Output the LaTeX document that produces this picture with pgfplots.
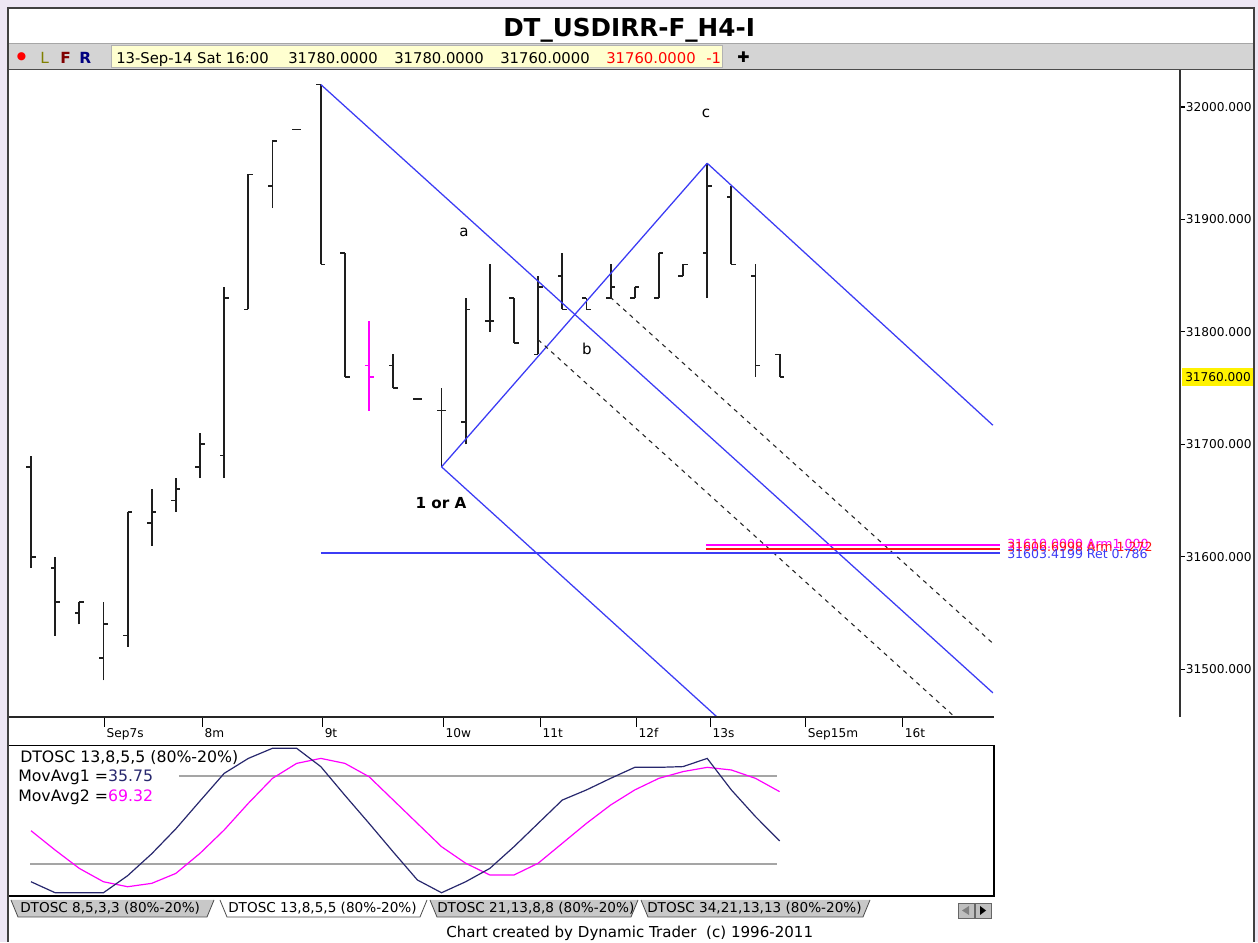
\documentclass[border=0pt]{standalone}
\usepackage{fontspec}
\setmainfont{DejaVu Sans}
\usepackage{pgfplots}
\usepackage{pgfplotstable}
\pgfplotsset{compat=1.18}

\definecolor{lav}{RGB}{237,231,244}
\definecolor{tbgray}{RGB}{212,212,212}
\definecolor{ylw}{RGB}{255,255,208}
\definecolor{lblue}{RGB}{60,60,245}
\definecolor{navyosc}{RGB}{40,40,110}
\definecolor{mag}{RGB}{255,0,255}
\definecolor{tabgray}{RGB}{200,200,200}
\definecolor{oliveL}{RGB}{128,128,0}
\definecolor{maroonF}{RGB}{128,0,0}
\definecolor{navyR}{RGB}{0,0,128}
\definecolor{barcol}{RGB}{30,30,30}
\definecolor{oscgray}{RGB}{165,165,165}
\definecolor{redlab}{RGB}{255,20,20}

\newcommand\fs[1]{\fontsize{#1}{#1}\selectfont}

% price bars: index, open, high, low, close
\pgfplotstableread{
i o h l c
0 31680 31690 31590 31600
1 31590 31600 31530 31560
2 31550 31560 31540 31560
3 31510 31560 31490 31540
4 31530 31640 31520 31640
5 31630 31660 31610 31640
6 31650 31670 31640 31660
7 31680 31710 31670 31700
8 31690 31840 31670 31830
9 31820 31940 31820 31940
10 31930 31970 31910 31970
11 31980 31980 31980 31980
12 32020 32020 31860 31860
13 31870 31870 31760 31760
15 31770 31780 31750 31750
16 31740 31740 31740 31740
17 31730 31750 31680 31730
18 31720 31830 31700 31820
19 31810 31860 31800 31810
20 31830 31830 31790 31790
21 31780 31850 31780 31840
22 31850 31870 31820 31820
23 31830 31830 31820 31820
24 31830 31860 31830 31840
25 31830 31840 31830 31840
26 31830 31870 31830 31870
27 31850 31860 31850 31860
28 31870 31950 31830 31930
29 31920 31930 31860 31860
30 31850 31860 31760 31770
31 31780 31780 31760 31760
}\bars
\pgfplotstableread{
i o h l c
14 31770 31810 31730 31760
}\magbar

% oscillator: MovAvg1 (navy), MovAvg2 (magenta)
\pgfplotstableread{
i v1 v2
0 7.9 42.7
1 0.4 29.5
2 0.4 17.0
3 0.4 7.9
4 12.0 4.5
5 27.0 6.8
6 44.0 13.6
7 63.0 27.3
8 81.8 43.2
9 92.0 61.4
10 98.9 78.4
11 98.9 88.6
12 86.4 92.0
13 66.8 88.6
14 47.7 79.5
15 28.2 63.6
16 9.1 47.7
17 0.4 31.8
18 7.9 20.5
19 17.0 12.5
20 31.8 12.5
21 47.7 20.5
22 63.6 34.1
23 70.5 47.7
24 78.4 60.2
25 85.9 70.5
26 85.9 78.4
27 86.4 83.0
28 92.0 85.9
29 70.5 84.1
30 52.3 78.4
31 35.75 69.32
}\osc

\pgfplotsset{
  nomk/.style={only marks, mark size=0pt, mark options={draw opacity=0, fill opacity=0}, forget plot},
  hl/.style={nomk,
    error bars/.cd, y dir=plus, y explicit, error mark=none,
    error bar style={draw=#1, line width=1.4pt}},
  op/.style={nomk,
    error bars/.cd, x dir=minus, x fixed=0.19, error mark=none,
    error bar style={draw=#1, line width=1.3pt}},
  cl/.style={nomk,
    error bars/.cd, x dir=plus, x fixed=0.19, error mark=none,
    error bar style={draw=#1, line width=1.3pt}},
}

\begin{document}
\begin{tikzpicture}
% ---------- window background (pixel coordinates, y downwards)
\begin{scope}[x=0.75pt,y=-0.75pt,yshift=706.5pt]
\fill[lav] (0,0) rectangle (1258,942);
\fill[white] (8,8) rectangle (1254,942);
\fill[tbgray] (8,43) rectangle (1254,69);
\draw[black!70, line width=0.75pt] (8,69.5) -- (1254,69.5);
\draw[black!35, line width=0.5pt] (8,43) -- (1254,43);
\end{scope}

% ---------- price panel with right price scale
\begin{axis}[at={(6pt,168.75pt)}, anchor=south west, scale only axis,
  width=879pt, height=485.25pt,
  xmin=-0.952, xmax=47.578, ymin=31457.54, ymax=32032.9,
  axis x line=none, axis y line*=right,
  scaled y ticks=false,
  y axis line style={line width=1.1pt, black!80},
  ytick={31500,31600,31700,31800,31900,32000},
  yticklabels={31500.000,31600.000,31700.000,31800.000,31900.000,32000.000},
  tick align=outside, major tick length=3.75pt,
  ytick style={black, line width=0.8pt},
  yticklabel style={font=\fs{9.1}, anchor=west, inner sep=0pt, xshift=0.5pt, text=black}]
\addplot[hl=barcol] table[x=i, y=l, y error expr=\thisrow{h}-\thisrow{l}] {\bars};
\addplot[op=barcol] table[x=i, y=o] {\bars};
\addplot[cl=barcol] table[x=i, y=c] {\bars};
\addplot[hl=mag] table[x=i, y=l, y error expr=\thisrow{h}-\thisrow{l}] {\magbar};
\addplot[op=mag] table[x=i, y=o] {\magbar};
\addplot[cl=mag] table[x=i, y=c] {\magbar};
% trend / channel lines
\addplot[lblue, line width=0.95pt] coordinates {(12,32020) (39.83,31479)};
\addplot[lblue, line width=0.95pt] coordinates {(28,31950) (39.83,31717)};
\addplot[lblue, line width=0.95pt] coordinates {(17,31680) (29,31446)};
\addplot[lblue, line width=0.95pt] coordinates {(17,31680) (28,31950)};
\addplot[black!85, line width=0.8pt, dash pattern=on 3.2pt off 3.4pt] coordinates {(21,31793) (39,31443)};
\addplot[black!85, line width=0.8pt, dash pattern=on 3.2pt off 3.4pt] coordinates {(23.98,31831) (39.83,31523)};
% horizontal levels
\addplot[mag, line width=1.1pt] coordinates {(27.95,31610.5) (40.12,31610.5)};
\addplot[redlab, line width=1.1pt] coordinates {(27.95,31607) (40.12,31607)};
\addplot[lblue, line width=0.95pt] coordinates {(12,31603.42) (40.12,31603.42)};
\end{axis}

% ---------- date axis
\begin{axis}[at={(6pt,168.75pt)}, anchor=south west, scale only axis,
  width=739.5pt, height=485.25pt,
  xmin=-0.952, xmax=39.876, ymin=0, ymax=1,
  axis x line*=bottom, axis y line=none,
  x axis line style={line width=1.1pt, black!85},
  xtick={3.04,7.1,12.07,17.08,21.09,25.07,28.13,32.08,36.09},
  xticklabels={Sep7s,8m,9t,10w,11t,12f,13s,Sep15m,16t},
  tick align=outside, major tick length=7.5pt,
  xtick style={black, line width=0.8pt},
  xticklabel style={font=\fs{9.1}, anchor=north west, inner sep=0pt, xshift=1.5pt, yshift=-1pt, text=black}]
\addplot[draw=none, forget plot] coordinates {(0,0)};
\end{axis}

% ---------- oscillator panel
\begin{axis}[at={(6pt,34.5pt)}, anchor=south west, scale only axis,
  width=739.5pt, height=112.725pt,
  xmin=-0.952, xmax=39.876, ymin=-1.82, ymax=100.66,
  xtick=\empty, ytick=\empty,
  axis line style={line width=1.1pt, black}]
\addplot[oscgray, line width=1.1pt] coordinates {(6.12,80) (30.9,80)};
\addplot[oscgray, line width=1.1pt] coordinates {(-0.04,20) (30.9,20)};
\addplot[mag, line width=0.9pt] table[x=i, y=v2] {\osc};
\addplot[navyosc, line width=0.9pt] table[x=i, y=v1] {\osc};
\end{axis}

% ---------- texts and window decorations
\begin{scope}[x=0.75pt,y=-0.75pt,yshift=706.5pt]
% title
\node[anchor=base west, inner sep=0pt, font=\bfseries\fs{18.5}] at (503,37) {DT\_USDIRR-F\_H4-I};
% toolbar
\node[anchor=center, inner sep=0pt, text=red, font=\fs{8}] at (21.5,57) {●};
\node[anchor=base west, inner sep=0pt, text=oliveL, font=\fs{11.5}] at (40,63.5) {L};
\node[anchor=base west, inner sep=0pt, text=maroonF, font=\bfseries\fs{11.5}] at (60,63.5) {F};
\node[anchor=base west, inner sep=0pt, text=navyR, font=\bfseries\fs{11.5}] at (79,63.5) {R};
\fill[ylw] (111,45.5) rectangle (722,67);
\draw[black!30, line width=0.4pt] (111,45.5) rectangle (722,67);
\begin{scope}
\clip (111,45.5) rectangle (720,67);
\node[anchor=base west, inner sep=0pt, font=\fs{11.1}] at (116,63.5) {13-Sep-14 Sat 16:00};
\node[anchor=base west, inner sep=0pt, font=\fs{11.1}] at (288,63.5) {31780.0000};
\node[anchor=base west, inner sep=0pt, font=\fs{11.1}] at (394,63.5) {31780.0000};
\node[anchor=base west, inner sep=0pt, font=\fs{11.1}] at (500,63.5) {31760.0000};
\node[anchor=base west, inner sep=0pt, text=red, font=\fs{11.1}] at (606,63.5) {31760.0000};
\node[anchor=base west, inner sep=0pt, text=red, font=\fs{11.1}] at (706,63.5) {-1};
\end{scope}
\node[anchor=center, inner sep=0pt, font=\bfseries\fs{11}] at (743.5,57) {✚};
% current price label
\fill[yellow] (1181.5,368) rectangle (1253,386);
\node[anchor=west, inner sep=0pt, font=\fs{9.1}] at (1185,377) {31760.000};
% wave labels
\node[font=\fs{11.3}] at (464,232) {a};
\node[font=\fs{11.3}] at (587,349) {b};
\node[font=\fs{11.3}] at (706,113) {c};
\node[font=\bfseries\fs{11.4}] at (441,503) {1 or A};
% level labels (overlapping as in the original)
\node[anchor=west, inner sep=0pt, text=mag, font=\fs{9.4}] at (1007,544) {31610.0000 Arm1.000};
\node[anchor=west, inner sep=0pt, text=redlab, font=\fs{9.4}] at (1007,547) {31606.6998 Arm 1.272};
\node[anchor=west, inner sep=0pt, text=lblue, font=\fs{9.4}] at (1007,553.5) {31603.4199 Ret 0.786};
% oscillator legend
\node[anchor=base west, inner sep=0pt, font=\fs{11.8}] at (20,763) {DTOSC 13,8,5,5 (80\%-20\%)};
\node[anchor=base west, inner sep=0pt, font=\fs{11.8}] at (18,782) {MovAvg1 =\textcolor{navyosc}{35.75}};
\node[anchor=base west, inner sep=0pt, font=\fs{11.8}] at (18,802) {MovAvg2 =\textcolor{mag}{69.32}};
% tabs
\foreach \a/\b in {641/870,430/638,11/214}{
  \filldraw[fill=tabgray, draw=black!70, line width=0.6pt] (\a,900) -- (\a+7,917) -- (\b-7,917) -- (\b,900);
}
\filldraw[fill=white, draw=black!70, line width=0.6pt] (220,900) -- (227,917) -- (420,917) -- (427,900);
\node[anchor=base west, inner sep=0pt, font=\fs{10.2}] at (20,913) {DTOSC 8,5,3,3 (80\%-20\%)};
\node[anchor=base west, inner sep=0pt, font=\fs{10.2}] at (228,913) {DTOSC 13,8,5,5 (80\%-20\%)};
\node[anchor=base west, inner sep=0pt, font=\fs{10.2}] at (437,913) {DTOSC 21,13,8,8 (80\%-20\%)};
\node[anchor=base west, inner sep=0pt, font=\fs{10.2}] at (647,913) {DTOSC 34,21,13,13 (80\%-20\%)};
\filldraw[fill=black!25, draw=black!60, line width=0.5pt] (958,903) rectangle (974,918);
\filldraw[fill=black!25, draw=black!60, line width=0.5pt] (975,903) rectangle (991,918);
\fill[black!50] (962,910.5) -- (969,906) -- (969,915) -- cycle;
\fill[black] (986,910.5) -- (980,906) -- (980,915) -- cycle;
% footer
\node[anchor=base west, inner sep=0pt, font=\fs{11.3}] at (446,937.5) {Chart created by Dynamic Trader\ \ (c) 1996-2011};
% window frame
\draw[black!75, line width=1.1pt] (8,942) -- (8,8) -- (1254,8) -- (1254,942);
\end{scope}
\end{tikzpicture}
\end{document}
